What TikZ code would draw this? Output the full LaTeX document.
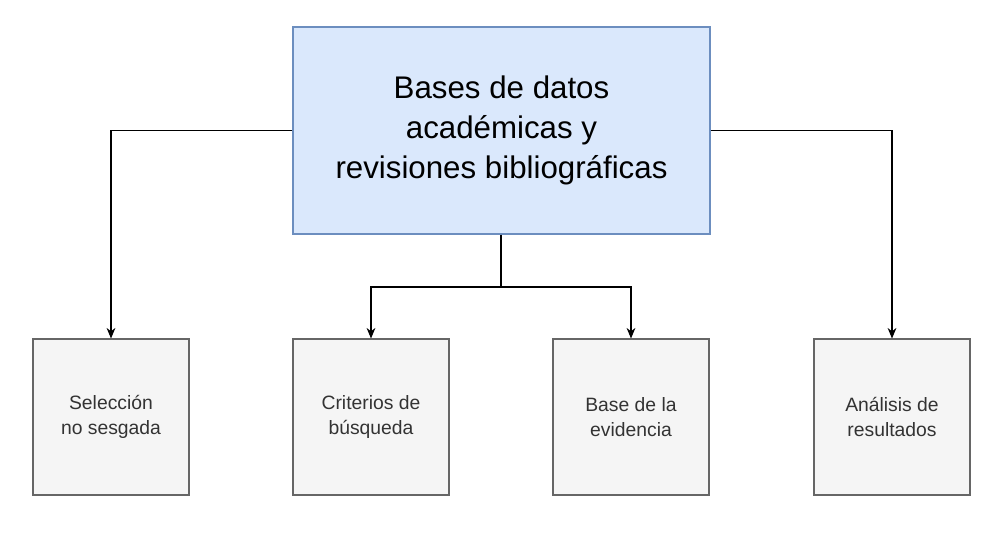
\documentclass[tikz,border=0pt]{standalone}
\usepackage{fontspec}
\setmainfont{Liberation Sans}
\usetikzlibrary{arrows.meta}
\definecolor{tf}{HTML}{DAE8FC}\definecolor{ts}{HTML}{6C8EBF}
\definecolor{bf}{HTML}{F5F5F5}\definecolor{bs}{HTML}{666666}\definecolor{bt}{HTML}{333333}
\begin{document}
\begin{tikzpicture}[x=0.02cm,y=-0.02cm,
 top/.style={draw=ts,fill=tf,line width=0.6pt,minimum width=417*0.02cm,minimum height=207*0.02cm,align=center,font=\fontsize{17.8}{22.7}\selectfont},
 box/.style={draw=bs,fill=bf,line width=0.6pt,minimum width=156*0.02cm,minimum height=156*0.02cm,align=center,text=bt,font=\fontsize{11}{14.2}\selectfont},
 arr/.style={-{Stealth[length=6pt,width=5pt]},line width=0.6pt}]
\useasboundingbox (0,0) rectangle (1000,539);
\node[top] (t) at (501.5,130.5) {Bases de datos\\académicas y\\revisiones bibliográficas};
\node[box] (a) at (111,417) {Selección\\no sesgada};
\node[box] (b) at (371,417) {Criterios de\\búsqueda};
\node[box] (c) at (631,417) {Base de la\\evidencia};
\node[box] (d) at (892,417) {Análisis de\\resultados};
\coordinate (m) at (501,287);
\draw[arr] (t.west) -| (a.north);
\draw[arr] (t.east) -| (d.north);
\draw[arr] (t.south -| m) -- (m) -| (b.north);
\draw[arr] (m) -| (c.north);
\end{tikzpicture}
\end{document}
